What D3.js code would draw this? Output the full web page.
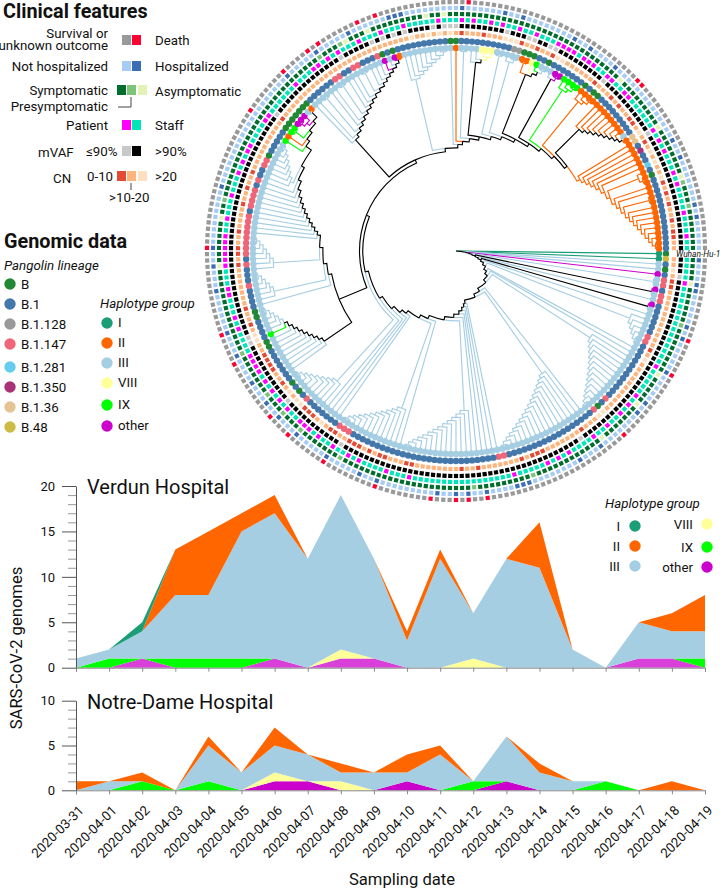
<!DOCTYPE html>
<html><head><meta charset="utf-8">
<script src="https://cdn.jsdelivr.net/npm/d3@7"></script>
<style>
html,body{margin:0;padding:0;background:#fff}
svg{display:block;font-family:Roboto,sans-serif;fill:#111}
</style></head><body><div id="chart"></div>
<script>
// ---------- phylogeny topology, in clockwise tip order ("x" = tip, "Ln" = ladder of n tips) ----------
const lowerClades = ["x","x","x","x","x","(x,x)","(x,x)","x","(x,x)","x","L6","x","x","L14","x","L17","x","x","x","x","x","L14","x","L12","x","x","x","x","L9"];
const leftSpiral = ["x","L6","L7","x","x","x","x","x","x","x","x","x","x","x","L8","x","x","(x,x)","((x,x),x)","(x,x)"];
const topLadder = ["x","x","(x,x)","x","x","(x,x)","x","x","x","(x,x)","x","x","x","x","x","(x,x)"];
const topClades = ["L9","x","x","(x,x)","(x,(x,((x,x),x)))","(x,x)","(x,(x,x))","((x,x),(x,(x,(x,x))))","(x,(x,x))","(x,(x,(x,x)))","(x,(x,(x,x)))"];
const orangeLadder = ["x","x","x","x","x","x","(x,(x,x))","x","x","(x,x)","x","x","x","x","x","x","x","(x,x)"];

// ---------- haplotype group per tip (default III) ----------
const hapI = [0,1];
const hapOther = [4,7,10,149,150,151,170,172,204,205];
const hapIX = [106,145,147,148,200,206,207,208,209];
const hapVIII = [189,190,191,199];
const hapII = [146,153,173,184,197,198,210,211,212,213,214,215,216,217,218,219,220,221,223,224,225,226,227,228,229,230,231,232,233,234,235,236,237,238,239,240,241,242,243,244,245];

// ---------- lineage per tip (default B.1) ----------
const linB = [0,3,32,94,96,104,105,110,111,141,147,148,149,150,151,152,153,170,172,183,184,197,198,199,202,210,212,213,231];
const linB147 = [5,6,8,9,16,17,30,33,52,53,82,83,84,92,116,120,122,123,124,125,126,127,128,129,131,132,133,134,136,139,140,160,161,164,165,169];
const linB128 = [195,196];
const linB281 = [229];
const linB350 = [226];
const linB36 = [223,224];
const linB48 = [1];

// ---------- clinical rings ----------
const deathTips = [14,20,32,56,59,61,65,74,83,90,94,104,109,123,146,154,159,161,168,171,186,216,217];
const hospitalizedTips = [1,5,6,12,14,20,26,28,36,40,49,50,51,56,59,61,64,74,77,83,89,93,96,100,105,109,116,120,123,133,154,160,166,173,174,175,185,192,195,204,207,212,227,230,238,240];
const asymptomaticTips = [5,21,27,35,120,128,165,169,179,182,214,224,233];
const presymptomaticTips = [12,48,58,81,89,93,97,105,131,160,164,234,238];
const patientTips = [5,20,26,28,30,33,36,41,43,45,51,69,73,78,80,83,86,88,89,90,93,95,97,99,101,102,103,104,109,111,115,116,120,121,122,123,124,125,128,132,136,138,140,141,146,147,154,158,159,161,163,167,171,175,181,185,187,190,192,195,198,202,203,204,205,207,208,209,212,213,216,217,224,226,228,232,234,239,243];
const lowVafTips = [4,38,82,94,106,107,148,163,169,171,173,175,180,182,183,184,193,197,198,201,202,212,224];
const cnLowTips = [5,6,18,37,45,46,47,49,57,60,69,70,74,75,77,79,80,81,84,85,89,90,91,97,100,101,102,103,109,112,120,122,123,126,131,134,137,148,185,189,196,199,202,211,215,217,220,221,225,233,235,237,240,242,243];
const cnHighTips = [3,20,32,33,87,92,93,95,106,107,176,179,181,183,193,194,195,203,204,223,227,229,232];

// ---------- area charts ----------
const dates = ["2020-03-31","2020-04-01","2020-04-02","2020-04-03","2020-04-04","2020-04-05","2020-04-06","2020-04-07","2020-04-08","2020-04-09","2020-04-10","2020-04-11","2020-04-12","2020-04-13","2020-04-14","2020-04-15","2020-04-16","2020-04-17","2020-04-18","2020-04-19"];
const groupOrder = ["other","IX","VIII","III","II","I"];
const verdunOther = [0,0,1,0,0,0,1,0,1,1,0,0,0,0,0,0,0,1,1,0];
const verdunIX    = [0,1,0,1,1,1,0,0,0,0,0,0,0,0,0,0,0,0,0,1];
const verdunVIII  = [0,0,0,0,0,0,0,0,1,0,0,0,1,0,0,0,0,0,0,0];
const verdunIII   = [1,1,3,7,7,14,16,12,17,11,3,12,5,12,11,2,0,4,3,3];
const verdunII    = [0,0,0,5,7,2,2,0,0,0,1,1,0,0,5,0,0,0,2,4];
const verdunI     = [0,0,1,0,0,0,0,0,0,0,0,0,0,0,0,0,0,0,0,0];
const notreOther  = [0,0,0,0,0,0,1,1,0,0,1,0,0,1,0,0,0,0,0,0];
const notreIX     = [0,0,1,0,1,0,0,0,0,0,0,0,1,0,0,0,1,0,0,0];
const notreVIII   = [0,0,0,0,0,0,1,0,1,0,0,0,0,0,0,0,0,0,0,0];
const notreIII    = [0,1,0,0,4,2,3,3,1,2,1,4,0,5,2,1,0,0,0,0];
const notreII     = [1,0,1,0,1,0,2,0,1,0,2,1,0,0,1,0,0,0,1,0];
const notreI      = [0,0,0,0,0,0,0,0,0,0,0,0,0,0,0,0,0,0,0,0];

// ---------- legends ----------
const lineageNames = ["B","B.1","B.1.128","B.1.147","B.1.281","B.1.350","B.1.36","B.48"];
const lineageColors = ["#228833","#4477aa","#999999","#ee6677","#66ccee","#aa3377","#e5c494","#ccbb44"];
const groupNames = ["I","II","III","VIII","IX","other"];
const groupColors = ["#1b9e77","#ff6600","#a6cee3","#ffff99","#00ff00","#cc00cc"];

const W = 720, H = 889, cx = 456, cy = 251;
const hapColor = d3.scaleOrdinal(groupNames, groupColors);
const linColor = d3.scaleOrdinal(lineageNames, lineageColors);
const svg = d3.select("#chart").append("svg").attr("width", W).attr("height", H).attr("viewBox", [0,0,W,H]);

// ---------- tree ----------
const spine = list => list.reduceRight((rest, c) => `(${c},${rest})`);
const ladder = n => n === 1 ? {} : {children: [{}, ladder(n - 1)]};
function parse(s) {
  let i = 0;
  function node() {
    if (s[i] === "(") {
      i++;
      const c = [node()];
      while (s[i] === ",") { i++; c.push(node()); }
      i++;
      return {children: c};
    }
    if (s[i] === "L") {
      i++;
      let n = "";
      while (/\d/.test(s[i])) n += s[i++];
      return ladder(+n);
    }
    i++;
    return {};
  }
  return node();
}
const leftClade = `(L14,${spine(leftSpiral)})`;
const topClade = spine([spine(topLadder), ...topClades, `(L10,${spine(orangeLadder)})`]);
const newick = spine([...lowerClades, leftClade, topClade]);
const root = d3.hierarchy(parse(newick));
d3.cluster().size([360, 1]).separation(() => 1)(root);
const tipNodes = root.leaves();
const N = tipNodes.length;
const tips = d3.range(N);
const tipAngle = i => tipNodes[i].x;
const R = d3.scaleLinear([0, 1], [0, 203]);

const groupOf = i => hapI.includes(i) ? "I" : hapOther.includes(i) ? "other" : hapIX.includes(i) ? "IX"
  : hapVIII.includes(i) ? "VIII" : hapII.includes(i) ? "II" : "III";
const lineageOf = i => linB.includes(i) ? "B" : linB147.includes(i) ? "B.1.147" : linB128.includes(i) ? "B.1.128"
  : linB281.includes(i) ? "B.1.281" : linB350.includes(i) ? "B.1.350" : linB36.includes(i) ? "B.1.36"
  : linB48.includes(i) ? "B.48" : "B.1";

tipNodes.forEach((n, i) => { n.data.group = groupOf(i); });
root.eachAfter(n => {
  if (n.children) {
    const g = new Set(n.children.map(c => c.data.group));
    n.data.group = g.size === 1 ? [...g][0] : "mixed";
  }
});
const edgeColor = g => g === "mixed" ? "#000" : hapColor(g);
const rad = a => (a) * Math.PI / 180;
const pol = (r, a) => [cx + r * Math.cos(rad(a)), cy + r * Math.sin(rad(a))];
function edgePath(n) {
  const p = n.parent, rp = R(p.y), rn = R(n.y);
  const s = pol(rp, p.x), e = pol(rp, n.x), t = pol(rn, n.x);
  const large = Math.abs(n.x - p.x) > 180 ? 1 : 0, sweep = n.x > p.x ? 1 : 0;
  return `M${s}A${rp},${rp} 0 ${large} ${sweep} ${e}L${t}`;
}
const edges = root.descendants().filter(d => d.parent)
  .sort((a, b) => (a.data.group === "mixed") - (b.data.group === "mixed"));
svg.append("g").attr("fill", "none").attr("stroke-width", 1.15).selectAll("path").data(edges).join("path")
  .attr("d", edgePath).attr("stroke", d => edgeColor(d.data.group));

// ---------- tip circles ----------
const circleRing = (r, color) => svg.append("g").selectAll("circle").data(tips).join("circle")
  .attr("r", 3.2).attr("cx", i => pol(r, tipAngle(i))[0]).attr("cy", i => pol(r, tipAngle(i))[1]).attr("fill", color);
circleRing(203, i => hapColor(groupOf(i)));
circleRing(210, i => linColor(lineageOf(i)));

// ---------- clinical square rings (Wuhan-Hu-1 has no clinical data) ----------
const squareRing = (r, color) => svg.append("g").selectAll("rect").data(tips.slice(1)).join("rect")
  .attr("x", -2.1).attr("y", -2.1).attr("width", 4.2).attr("height", 4.2)
  .attr("transform", i => `translate(${cx},${cy}) rotate(${tipAngle(i)}) translate(${r},0)`)
  .attr("fill", color);
const C = {grey:"#999999", red:"#ff0033", lb:"#a6cbf5", db:"#3a6db3", g1:"#006d2c", g2:"#7bc47a", g3:"#e3f3b5",
  mag:"#ff00ff", teal:"#00e6b8", lg:"#c8c8c8", blk:"#000000", cn1:"#e34a33", cn2:"#fdb57e", cn3:"#fde0c2"};
squareRing(249, i => deathTips.includes(i) ? C.red : C.grey);
squareRing(243, i => hospitalizedTips.includes(i) ? C.db : C.lb);
squareRing(237, i => asymptomaticTips.includes(i) ? C.g3 : presymptomaticTips.includes(i) ? C.g2 : C.g1);
squareRing(231, i => patientTips.includes(i) ? C.mag : C.teal);
squareRing(225, i => lowVafTips.includes(i) ? C.lg : C.blk);
squareRing(218, i => cnLowTips.includes(i) ? C.cn1 : cnHighTips.includes(i) ? C.cn3 : C.cn2);

svg.append("text").attr("x", 676).attr("y", 257).attr("font-size", 8.4).attr("font-style", "italic").text("Wuhan-Hu-1");

// ---------- helper for text ----------
const txt = (x, y, t, o = {}) => svg.append("text").attr("x", x).attr("y", y)
  .attr("font-size", o.size || 13.3).attr("text-anchor", o.anchor || "start")
  .attr("font-weight", o.weight || null).attr("font-style", o.style || null).text(t);
const sq = (x, yc, color) => svg.append("rect").attr("x", x).attr("y", yc - 5).attr("width", 9).attr("height", 10).attr("fill", color);

// ---------- clinical legend ----------
txt(3, 18, "Clinical features", {size: 19.8, weight: 700});
txt(108, 38, "Survival or", {anchor: "end"});
txt(108, 50, "unknown outcome", {anchor: "end"});
sq(122, 40, C.grey); sq(132, 40, C.red); txt(155, 45, "Death");
txt(108, 71, "Not hospitalized", {anchor: "end"});
sq(122, 66, C.lb); sq(132, 66, C.db); txt(155, 71, "Hospitalized");
txt(108, 95, "Symptomatic", {anchor: "end"});
sq(117, 90, C.g1); sq(127, 90, C.g2); sq(138, 90, C.g3); txt(155, 96, "Asymptomatic");
txt(108, 111, "Presymptomatic", {anchor: "end"});
svg.append("path").attr("d", "M118,107H131V97").attr("fill", "none").attr("stroke", "#444");
txt(108, 130, "Patient", {anchor: "end"});
sq(122, 125, C.mag); sq(132, 125, C.teal); txt(155, 130, "Staff");
txt(38, 157, "mVAF"); txt(86, 156, "≤90%");
sq(122, 151, C.lg); sq(132, 151, C.blk); txt(155, 156, ">90%");
txt(53, 183, "CN"); txt(87, 181, "0-10");
sq(117, 176, C.cn1); sq(127, 176, C.cn2); sq(138, 176, C.cn3); txt(155, 181, ">20");
svg.append("path").attr("d", "M131,183V190").attr("stroke", "#444");
txt(109, 202, ">10-20");

// ---------- genomic legend ----------
txt(4, 248, "Genomic data", {size: 19.8, weight: 700});
txt(4, 270, "Pangolin lineage", {style: "italic"});
const linY = [284,304,324,344,367,387,407,427];
lineageNames.forEach((n, i) => {
  svg.append("circle").attr("cx", 10).attr("cy", linY[i]).attr("r", 5.7).attr("fill", linColor(n));
  txt(21, linY[i] + 5, n);
});
txt(100, 308, "Haplotype group", {style: "italic"});
const hapY = [323,343,363,383,405,426];
groupNames.forEach((n, i) => {
  svg.append("circle").attr("cx", 107).attr("cy", hapY[i]).attr("r", 5.7).attr("fill", hapColor(n));
  txt(118, hapY[i] + 4, n);
});

// ---------- area charts ----------
const xS = d3.scalePoint(dates, [76, 705]);
const rows = arrs => dates.map((d, i) => ({date: d, other: arrs[0][i], IX: arrs[1][i], VIII: arrs[2][i], III: arrs[3][i], II: arrs[4][i], I: arrs[5][i]}));
function panel(arrs, yMax, yRange, majors, minors, title, titleY, showLabels, otherOpacity) {
  const y = d3.scaleLinear([0, yMax], yRange);
  const series = d3.stack().keys(groupOrder)(rows(arrs));
  const area = d3.area().x(d => xS(d.data.date)).y0(d => y(d[0])).y1(d => y(d[1]));
  svg.append("g").selectAll("path").data(series).join("path").attr("d", area)
    .attr("fill", s => hapColor(s.key)).attr("fill-opacity", s => s.key === "other" ? otherOpacity : 1);
  const ax = svg.append("g").attr("transform", `translate(0,${yRange[0]})`)
    .call(d3.axisBottom(xS).tickSizeOuter(0).tickSize(4).tickFormat(showLabels ? (d => d) : ""));
  ax.selectAll("path,line").attr("stroke", "#888");
  if (showLabels) ax.selectAll("text").attr("font-family", "Roboto").attr("font-size", 13.3).attr("fill", "#111")
    .attr("text-anchor", "end").attr("dy", 0).attr("dx", 0)
    .attr("transform", "translate(3,16) rotate(-45)");
  const mn = svg.append("g").attr("transform", "translate(76,0)")
    .call(d3.axisLeft(y).tickValues(minors).tickSize(8).tickFormat(""));
  mn.select(".domain").remove();
  mn.selectAll("line").attr("stroke", "#999");
  const mj = svg.append("g").attr("transform", "translate(76,0)")
    .call(d3.axisLeft(y).tickValues(majors).tickSize(14).tickSizeOuter(0).tickPadding(7));
  mj.selectAll(".domain").attr("stroke", "#555");
  mj.selectAll("line").attr("stroke", "#555");
  mj.selectAll("text").attr("font-family", "Roboto").attr("font-size", 13).attr("fill", "#111");
  txt(87, titleY, title, {size: 20});
}
panel([verdunOther,verdunIX,verdunVIII,verdunIII,verdunII,verdunI], 20, [667.7, 486], [0,5,10,15,20], [1,2,3,4,6,7,8,9,11,12,13,14,16,17,18,19], "Verdun Hospital", 494, false, 0.75);
panel([notreOther,notreIX,notreVIII,notreIII,notreII,notreI], 10, [790.3, 700.7], [0,5,10], [1,2,3,4,6,7,8,9], "Notre-Dame Hospital", 709, true, 1);

svg.append("text").attr("transform", "translate(22,648) rotate(-90)").attr("text-anchor", "middle").attr("font-size", 16.6).text("SARS-CoV-2 genomes");
txt(402, 885, "Sampling date", {size: 16.6, anchor: "middle"});

// ---------- panel legend ----------
txt(605, 508, "Haplotype group", {style: "italic"});
const panelLegend = [[0,635,526,"end",620],[1,635,546,"end",620],[2,635,566,"end",620],[3,707,524,"end",693],[4,707,547,"end",693],[5,707,567,"end",693]];
panelLegend.forEach(([g, x, y, a, tx]) => {
  svg.append("circle").attr("cx", x).attr("cy", y).attr("r", 5.7).attr("fill", groupColors[g]);
  txt(tx, y + 5, groupNames[g], {anchor: a});
});
</script></body></html>
